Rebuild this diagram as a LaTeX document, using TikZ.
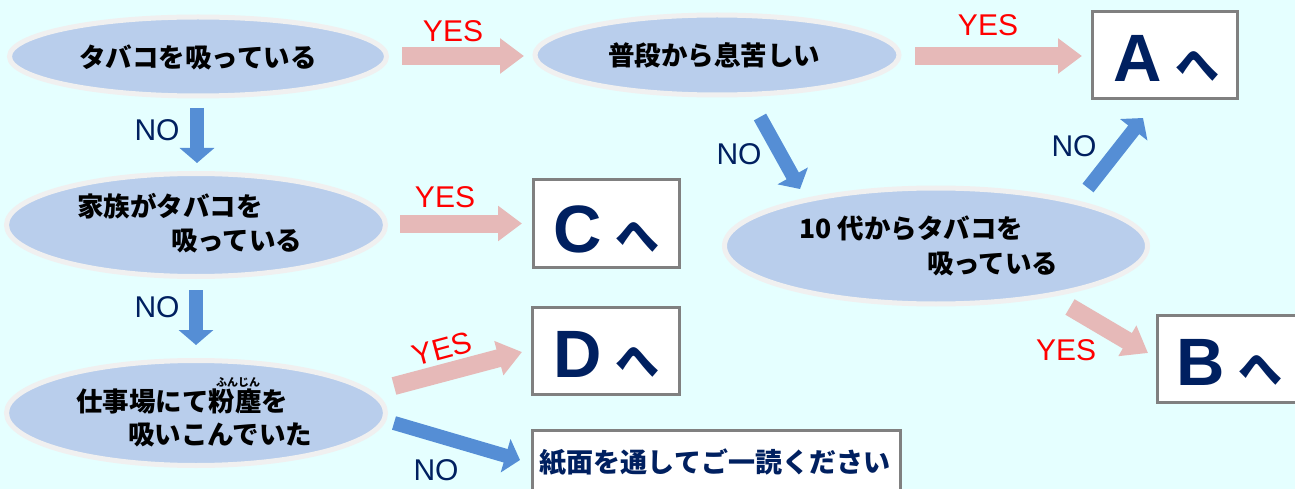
\documentclass[tikz,border=0pt]{standalone}
\usepackage{fontspec}
\setmainfont{Liberation Sans}
\newfontfamily\jp{Noto Sans CJK JP}
\usetikzlibrary{shapes.geometric,arrows.meta}
\definecolor{bgc}{RGB}{229,255,255}
\definecolor{ellfill}{RGB}{185,206,236}
\definecolor{ellline}{RGB}{240,240,240}
\definecolor{pinkarr}{RGB}{230,185,184}
\definecolor{bluearr}{RGB}{85,142,213}
\definecolor{navy}{RGB}{0,32,96}
\definecolor{boxline}{RGB}{128,128,128}
\tikzset{
  ell/.style={ellipse, fill=ellfill, draw=ellline, line width=5pt, inner sep=0pt},
  abox/.style={rectangle, fill=white, draw=boxline, line width=3pt, inner sep=0pt},
  jtxt/.style={inner sep=0pt, font=\jp\bfseries\fontsize{26.5}{26.5}\selectfont},
  yeslab/.style={inner sep=0pt, text=red, font=\fontsize{30}{30}\selectfont},
  nolab/.style={inner sep=0pt, text=navy, font=\fontsize{30}{30}\selectfont},
  yesarr/.style={draw=pinkarr, line width=18pt, -{Triangle[length=24pt,width=34pt]}},
  noarr/.style={draw=bluearr, line width=14pt, -{Triangle[length=15pt,width=34pt]}},
  letter/.style={inner sep=0pt, anchor=base west, text=navy}
}
\newcommand{\goto}[1]{{\fontsize{67}{67}\selectfont\bfseries #1}\hspace{14pt}{\jp\bfseries\fontsize{44}{44}\selectfont へ}}
\begin{document}
\begin{tikzpicture}[x=1pt,y=-1pt]
\fill[bgc] (0,0) rectangle (1295,489);
\useasboundingbox (0,0) rectangle (1295,489);
% ellipses
\node[ell, minimum width=377pt, minimum height=79pt] (e1) at (198,56.5) {};
\node[ell, minimum width=364pt, minimum height=80pt] (e2) at (717,55) {};
\node[ell, minimum width=379pt, minimum height=103pt] (e3) at (196,225) {};
\node[ell, minimum width=379pt, minimum height=105pt] (e4) at (196,413) {};
\node[ell, minimum width=423pt, minimum height=116pt] (e5) at (936,246) {};
% ellipse texts
\node[jtxt] (t1) at (198,57) {タバコを吸っている};
\node[jtxt] (t2) at (714,55) {普段から息苦しい};
\node[jtxt, anchor=west] (t3a) at (77,206) {家族がタバコを};
\node[jtxt, anchor=west] (t3b) at (171,241) {吸っている};
\node[jtxt, anchor=west] (t4a) at (76,401) {仕事場にて粉塵を};
\node[jtxt, anchor=west] (t4b) at (128,435) {吸いこんでいた};
\node[inner sep=0pt, font=\jp\bfseries\fontsize{11}{11}\selectfont] (ruby) at (238,382) {ふんじん};
\node[jtxt, anchor=west] (t5a) at (799,228) {10 代からタバコを};
\node[jtxt, anchor=west] (t5b) at (927,264) {吸っている};
% boxes
\node[abox, minimum width=145pt, minimum height=87pt] (A) at (1164.5,55.5) {};
\node[abox, minimum width=146pt, minimum height=87pt] (C) at (606,223.5) {};
\node[abox, minimum width=147pt, minimum height=87pt] (D) at (605.5,350.5) {};
\node[abox, minimum width=150pt, minimum height=87pt] (B) at (1232,358.5) {};
\node[abox, minimum width=368pt, minimum height=80pt] (P) at (716,470) {};
\node[letter] (At) at (1113,82) {\goto{A}};
\node[letter] (Ct) at (553,252) {\goto{C}};
\node[letter] (Dt) at (553,377) {\goto{D}};
\node[letter] (Bt) at (1176,385) {\goto{B}};
\node[inner sep=0pt, text=navy, font=\jp\bfseries\fontsize{27}{27}\selectfont] (Pt) at (715,462) {紙面を通してご一読ください};
% arrow end points
\coordinate (p1s) at (402,56);   \coordinate (p1e) at (524,56);
\coordinate (p2s) at (915,56);   \coordinate (p2e) at (1082,56);
\coordinate (p3s) at (400,223.5); \coordinate (p3e) at (522,223.5);
\coordinate (p4s) at (394,386);  \coordinate (p4e) at (522,352);
\coordinate (p5s) at (1070,307); \coordinate (p5e) at (1148,353);
\coordinate (b1s) at (197,108);  \coordinate (b1e) at (197,163);
\coordinate (b2s) at (196,290);  \coordinate (b2e) at (196,345);
\coordinate (b3s) at (394,423);  \coordinate (b3e) at (520,460);
\coordinate (b4s) at (760,117);  \coordinate (b4e) at (800,189);
\coordinate (b5s) at (1088,188); \coordinate (b5e) at (1143,118);
% arrows
\draw[yesarr] (p1s) -- (p1e);
\draw[yesarr] (p2s) -- (p2e);
\draw[yesarr] (p3s) -- (p3e);
\draw[yesarr] (p4s) -- (p4e);
\draw[yesarr] (p5s) -- (p5e);
\draw[noarr] (b1s) -- (b1e);
\draw[noarr] (b2s) -- (b2e);
\draw[noarr] (b3s) -- (b3e);
\draw[noarr] (b4s) -- (b4e);
\draw[noarr] (b5s) -- (b5e);
% labels
\node[yeslab] (y1) at (453,31) {YES};
\node[yeslab] (y2) at (988,25) {YES};
\node[yeslab] (y3) at (445,197) {YES};
\node[yeslab, rotate=15] (y4) at (442,349) {YES};
\node[yeslab] (y5) at (1066,350) {YES};
\node[nolab] (n1) at (157,130) {NO};
\node[nolab] (n2) at (157,307) {NO};
\node[nolab] (n3) at (436,470) {NO};
\node[nolab] (n4) at (739,154) {NO};
\node[nolab] (n5) at (1074,146) {NO};
\end{tikzpicture}
\end{document}
